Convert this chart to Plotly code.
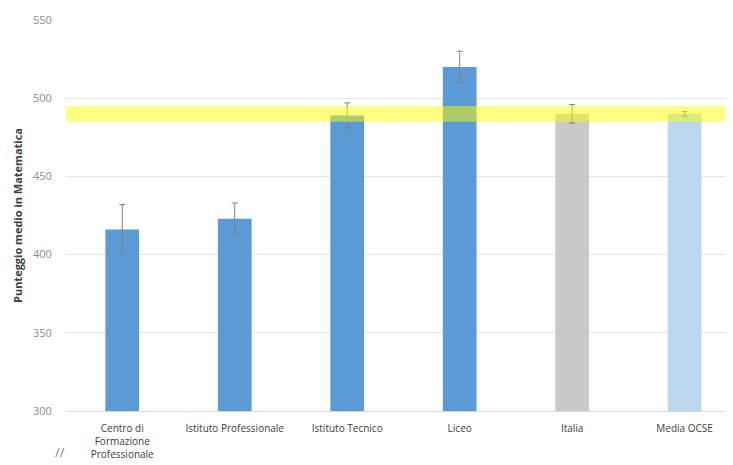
import plotly.graph_objects as go

categories = ["Centro di<br>Formazione<br>Professionale", "Istituto Professionale",
              "Istituto Tecnico", "Liceo", "Italia", "Media OCSE"]
scores = [416, 423, 489, 520, 490, 490]
errors = [16, 10, 8, 10, 6, 1.5]
bar_colors = ["#5B9BD5", "#5B9BD5", "#5B9BD5", "#5B9BD5", "#C9C9C9", "#BDD7EE"]
band_low, band_high = 485, 495
y_ticks = [300, 350, 400, 450, 500, 550]

fig = go.Figure()
fig.add_trace(go.Bar(
    x=categories, y=scores, marker_color=bar_colors, marker_line_width=0,
    error_y=dict(type="data", array=errors, color="#808080", thickness=1, width=3),
))

fig.add_shape(type="rect", xref="paper", yref="y", x0=0, x1=0.993,
              y0=band_low, y1=band_high, fillcolor="rgba(255,255,0,0.5)",
              line_width=0, layer="above")

fig.add_annotation(text="//", xref="paper", yref="paper", x=-0.009, y=-0.105,
                   showarrow=False, font=dict(size=13, color="#808080"),
                   xanchor="center", yanchor="middle")

fig.update_layout(
    width=725, height=457,
    margin=dict(l=58, r=0, t=12, b=54),
    plot_bgcolor="white", paper_bgcolor="white",
    bargap=0.7, showlegend=False,
    font=dict(family="Open Sans, Lato, sans-serif"),
    xaxis=dict(range=[-0.5, 5.43], showgrid=False, showline=True,
               linecolor="#D9D9D9", linewidth=1, automargin=False,
               tickfont=dict(size=10, color="#404040"),
               ticks="outside", ticklen=8, tickcolor="rgba(0,0,0,0)"),
    yaxis=dict(range=[300, 550], tickvals=y_ticks, showgrid=True,
               gridcolor="#E6E6E6", gridwidth=1, zeroline=False, automargin=False,
               tickfont=dict(size=11, color="#8C8C8C"),
               ticks="outside", ticklen=11, tickcolor="rgba(0,0,0,0)",
               title=dict(text="<b>Punteggio medio in Matematica</b>",
                          font=dict(size=11, color="#404040"), standoff=8)),
)

fig.write_html("out.html")
